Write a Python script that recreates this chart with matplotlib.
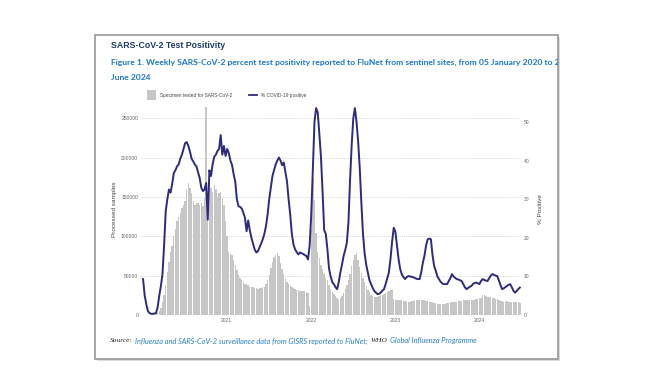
import numpy as np
import pandas as pd
import matplotlib
matplotlib.use('Agg')
import matplotlib.pyplot as plt
from matplotlib.patches import Rectangle
from matplotlib.lines import Line2D

# weekly data, 05 Jan 2020 - 23 Jun 2024
weeks = pd.date_range('2020-01-05', '2024-06-23', freq='7D')

specimens = [
    500, 400, 300, 300, 400, 500, 800, 1000, 2000, 3000, 5000, 9000, 16000, 25000, 38000, 55000,
    68000, 80000, 88000, 100000, 110000, 120000, 125000, 130000, 136000, 140000, 145000, 160000,
    168000, 162000, 155000, 145000, 140000, 143000, 142000, 140000, 142000, 138000, 149000, 265000,
    150000, 170000, 162000, 157000, 165000, 160000, 150000, 155000, 157000, 148000, 140000, 120000,
    100000, 80000, 78000, 76000, 70000, 63000, 57000, 51000, 47000, 44000, 42000, 40000, 39000,
    38000, 36000, 35500, 35000, 34000, 34000, 33500, 34000, 34500, 35000, 36000, 40000, 45000,
    51000, 60000, 68000, 74000, 76000, 78500, 75000, 66000, 59000, 52000, 46000, 42000, 39000,
    37000, 36000, 34000, 33000, 32000, 31500, 31000, 30500, 30000, 30000, 29500, 28000, 12000,
    110000, 174000, 146000, 104000, 80000, 72000, 64000, 58000, 52000, 47000, 44000, 38000, 33000,
    29000, 27000, 24000, 21000, 19000, 21000, 24000, 28000, 33000, 38000, 44000, 52000, 62000,
    70000, 76000, 79000, 70000, 61000, 54000, 47000, 42000, 37000, 32000, 29000, 26000, 24000,
    23000, 23000, 23500, 24000, 25000, 26000, 27000, 27500, 29000, 31000, 32000, 32000, 20000,
    19000, 19000, 19500, 19000, 18500, 18000, 17500, 17000, 17000, 17000, 17500, 18000, 18500,
    18500, 19000, 19000, 19500, 19000, 18500, 18000, 17500, 17000, 16500, 16000, 15500, 15000,
    14500, 14500, 14000, 14000, 14000, 14500, 15000, 15500, 16000, 16500, 17000, 17000, 17000,
    17500, 18000, 18000, 18500, 18500, 19000, 19000, 19000, 19500, 19500, 19000, 20000, 20500,
    21000, 21000, 25500, 25000, 24500, 23500, 23000, 22500, 22000, 21000, 20500, 20000, 19000,
    18000, 17500, 17000, 17000, 17500, 17000, 17000, 16500, 16500, 16000, 16000, 16000, 15500,
]

positivity = [
    9.3, 5.0, 2.8, 1.0, 0.5, 0.3, 0.3, 0.4, 0.5, 2.0, 5.0, 7.5, 10.6, 18.0, 26.9, 30.0,
    32.5, 31.7, 34.0, 36.8, 37.5, 38.5, 39.0, 40.5, 41.5, 43.0, 44.5, 44.8, 43.8, 42.3,
    40.5, 39.8, 39.0, 38.5, 37.0, 35.5, 33.0, 32.1, 32.5, 34.2, 24.7, 37.5, 36.0, 39.0,
    41.0, 41.5, 42.5, 43.0, 46.6, 41.5, 43.8, 41.2, 43.0, 42.0, 40.0, 38.9, 36.5, 34.6,
    30.0, 28.2, 28.0, 27.6, 26.5, 25.2, 21.7, 24.5, 22.0, 20.0, 18.5, 17.0, 16.2, 16.5,
    17.5, 18.5, 19.6, 21.0, 23.0, 26.0, 30.0, 33.0, 36.0, 37.5, 39.0, 40.0, 40.8, 40.0,
    38.8, 39.5, 37.0, 34.6, 30.0, 26.0, 21.0, 18.3, 17.0, 16.3, 15.7, 16.2, 16.0, 15.8,
    15.5, 15.3, 14.4, 18.0, 26.0, 38.0, 50.0, 53.6, 52.5, 47.0, 41.0, 32.0, 22.0, 21.0,
    17.0, 12.0, 10.0, 8.5, 8.0, 7.2, 6.7, 8.5, 11.0, 13.0, 15.3, 16.8, 18.7, 24.0, 35.0,
    44.0, 51.0, 53.6, 50.0, 45.0, 38.0, 29.0, 21.0, 16.0, 13.0, 11.0, 9.0, 8.0, 7.0, 6.2,
    5.8, 5.4, 5.5, 5.8, 6.3, 6.7, 8.0, 9.5, 11.0, 14.5, 19.0, 22.6, 21.6, 18.0, 14.5, 11.9,
    10.5, 9.8, 9.3, 9.8, 10.1, 10.0, 9.9, 9.8, 9.6, 9.4, 9.3, 9.3, 11.0, 13.5, 15.3, 18.0,
    19.6, 19.8, 19.6, 15.5, 12.7, 11.5, 10.0, 9.3, 8.6, 8.2, 8.0, 8.0, 8.0, 8.8, 9.5, 10.6,
    10.0, 9.6, 9.3, 9.2, 9.0, 8.8, 8.0, 7.2, 6.7, 7.0, 7.3, 7.5, 8.0, 8.3, 8.4, 8.2, 8.0,
    8.8, 9.3, 9.1, 8.9, 8.8, 9.5, 10.2, 10.6, 10.4, 10.2, 10.1, 9.0, 7.8, 6.7, 6.9, 7.2,
    7.5, 7.8, 8.0, 7.2, 6.3, 5.8, 6.2, 6.7, 7.1,
]

year_dates = pd.to_datetime(['2021-01-01', '2022-01-01', '2023-01-01', '2024-01-01'])
year_labels = ['2021', '2022', '2023', '2024']
sample_ticks = [0, 50000, 100000, 150000, 200000, 250000]
pct_ticks = [0, 10, 20, 30, 40, 50]

W, H = 655, 375
fig = plt.figure(figsize=(W / 100, H / 100), dpi=100)

def fx(px):
    return px / W

def fy(py):
    return 1 - py / H

# document box with a soft shadow
shadow = Rectangle((fx(97), fy(361)), fx(558) - fx(95), fy(35) - fy(359),
                   transform=fig.transFigure, facecolor='#dcdcdc', edgecolor='none', zorder=0)
box = Rectangle((fx(95), fy(359)), fx(558) - fx(95), fy(35) - fy(359),
                transform=fig.transFigure, facecolor='white', edgecolor='#8f8f8f',
                linewidth=1.1, zorder=1)
fig.patches.extend([shadow, box])

fig.text(fx(111), fy(46), 'SARS-CoV-2 Test Positivity', fontsize=6.3, fontweight='bold',
         family='Liberation Sans', color='#1f3a68', va='center')
cap1 = fig.text(fx(111), fy(62), 'Figure 1. Weekly SARS-CoV-2 percent test positivity reported to '
                'FluNet from sentinel sites, from 05 January 2020 to 23', fontsize=6.1,
                fontweight='bold', family='Lato', color='#1b76cc', va='center')
cap1.set_clip_path(box)
fig.text(fx(111), fy(78), 'June 2024', fontsize=6.1, fontweight='bold', family='Lato',
         color='#1b76cc', va='center')

# legend
fig.patches.append(Rectangle((fx(147), fy(100)), fx(9), fy(0) - fy(10), transform=fig.transFigure,
                             facecolor='#c6c6c6', edgecolor='none', zorder=2))
fig.text(fx(160), fy(95), 'Specimen tested for SARS-CoV-2', fontsize=3.4,
         family='Liberation Sans', color='#444444', va='center')
fig.lines.append(Line2D([fx(249), fx(257)], [fy(95), fy(95)], transform=fig.transFigure,
                        color='#2d2b7c', linewidth=1.3))
fig.text(fx(261), fy(95), '% COVID-19 positive', fontsize=3.4,
         family='Liberation Sans', color='#444444', va='center')

# chart
ax = fig.add_axes([fx(141), fy(315), fx(521) - fx(141), fy(102.7) - fy(315)])
ax.set_zorder(3)
ax.bar(weeks, specimens, width=6, color='#c6c6c6', linewidth=0, zorder=2)
ax.set_ylim(0, 270000)
ax.set_yticks(sample_ticks)
ax.set_xlim(weeks[0] - pd.Timedelta(days=9), weeks[-1] + pd.Timedelta(days=5))
ax.set_xticks(year_dates)
ax.set_xticklabels(year_labels)
ax.grid(axis='y', color='#d8d8d8', linestyle=(0, (1, 1)), linewidth=0.7, zorder=0)
ax.set_ylabel('Processed samples', fontsize=4.6, family='Liberation Sans', color='#444444',
              labelpad=3)
ax.patch.set_visible(False)

ax2 = ax.twinx()
ax2.plot(weeks, positivity, color='#2d2b7c', linewidth=1.4, zorder=3)
ax2.set_ylim(0, 55)
ax2.set_yticks(pct_ticks)
ax2.set_ylabel('% Positive', fontsize=4.6, family='Liberation Sans', color='#444444',
               labelpad=6)

for a in (ax, ax2):
    for s in a.spines.values():
        s.set_visible(False)
    a.tick_params(length=0, labelsize=3.6, labelcolor='#666666', pad=2)
    for lbl in a.get_xticklabels() + a.get_yticklabels():
        lbl.set_family('Liberation Sans')

# source line, pieces chained left to right
r = fig.canvas.get_renderer()
pieces = [('Source:', 'Liberation Serif', '#222222'),
          ('Influenza and SARS-CoV-2 surveillance data from GISRS reported to FluNet;', 'Lato', '#2a7fc9'),
          ('WHO', 'Liberation Serif', '#222222'),
          ('Global Influenza Programme', 'Lato', '#2a7fc9')]
x = fx(110)
for s, fam, col in pieces:
    t = fig.text(x, fy(341), s, fontsize=5.3, style='italic', family=fam, color=col, va='center')
    bb = t.get_window_extent(renderer=r)
    x = (bb.x1 + 2.5) / W

fig.savefig('out.png', dpi=100)
